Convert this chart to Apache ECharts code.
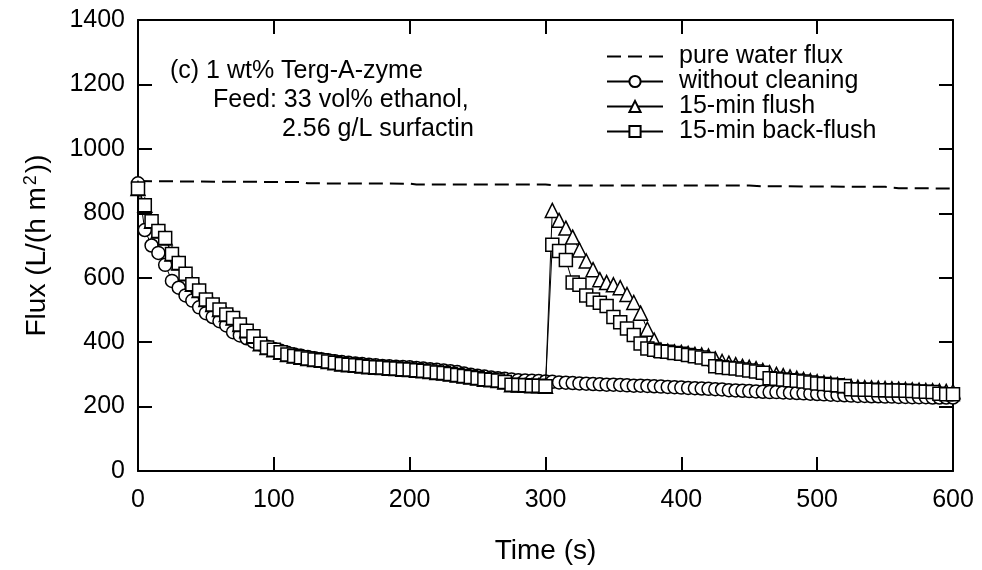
<!DOCTYPE html>
<html>
<head>
<meta charset="utf-8">
<script src="https://cdn.jsdelivr.net/npm/echarts@6/dist/echarts.min.js"></script>
<style>
  html, body { margin: 0; padding: 0; background: #fff; }
  #chart { width: 982px; height: 570px; }
</style>
</head>
<body>
<div id="chart"></div>
<script>
// ---- time (s) ----
var timeA = [0,5,10,15,20,25,30,35,40,45,50,55,60,65,70,75,80,85,90,95,
  100,105,110,115,120,125,130,135,140,145,150,155,160,165,170,175,180,185,190,195,
  200,205,210,215,220,225,230,235,240,245,250,255,260,265,270,275,280,285,290,295,300];
var timeB = [305,310,315,320,325,330,335,340,345,350,355,360,365,370,375,380,385,390,395,400,
  405,410,415,420,425,430,435,440,445,450,455,460,465,470,475,480,485,490,495,500,
  505,510,515,520,525,530,535,540,545,550,555,560,565,570,575,580,585,590,595,600];

// ---- pure water flux (dashed) ----
var waterTime = [0, 60, 120, 125, 200, 205, 300, 310, 450, 460, 550, 560, 600];
var waterFlux = [900, 898, 897, 893, 892, 889, 889, 886, 886, 884, 882, 878, 877];

// ---- without cleaning (circles) ----
var noCleanA = [893,748,700,677,640,590,569,545,529,508,490,478,465,452,431,421,412,402,393,386,
  379,373,367,362,358,354,350,347,344,341,338,336,334,332,330,328,326,325,324,323,
  322,320,318,316,314,312,310,307,303,299,296,293,290,288,286,284,282,281,280,279,278];
var noCleanB = [277,275,274,273,272,271,270,269,268,268,267,266,265,265,264,263,262,261,260,259,
  258,257,256,255,254,253,251,250,249,248,247,246,245,245,244,243,242,241,240,239,
  238,237,236,235,234,233,233,232,232,231,231,230,230,229,229,229,228,228,228,228];

// ---- 15-min flush (triangles) ----
var flushA = [877,825,775,745,723,674,646,612,580,560,532,517,501,486,475,455,435,418,395,383,
  376,369,362,357,353,349,346,344,340,336,332,330,328,326,324,322,321,319,318,316,
  315,313,311,309,306,304,301,298,295,292,289,285,283,281,276,268,267,266,265,265,263];
var flushB = [809,778,754,726,686,652,625,594,585,578,569,548,523,490,440,406,375,372,370,368,
  365,362,360,357,348,340,335,330,325,322,318,312,305,300,296,292,288,284,280,277,
  274,271,268,265,262,260,259,258,257,256,255,254,253,252,251,250,249,248,247,246];

// ---- 15-min back-flush (squares) ----
var backA = [877,825,775,745,723,674,646,612,580,560,532,517,501,486,475,455,435,418,395,383,
  376,369,362,357,353,349,346,344,340,336,332,330,328,326,324,322,321,319,318,316,
  315,313,311,309,306,304,301,298,295,292,289,285,283,281,276,268,267,266,265,265,263];
var backB = [702,683,655,585,578,545,532,522,512,478,462,442,422,396,380,376,372,370,366,364,
  360,356,352,348,325,322,320,318,315,312,309,305,288,286,284,282,280,278,275,272,
  270,268,266,264,254,253,252,252,251,251,250,250,249,248,247,246,245,240,238,238];

var seriesNames = ['pure water flux', 'without cleaning', '15-min flush', '15-min back-flush'];
var xTicks = [0, 100, 200, 300, 400, 500, 600];
var yTicks = [0, 200, 400, 600, 800, 1000, 1200, 1400];
var noteLines = ['(c) 1 wt% Terg-A-zyme', 'Feed: 33 vol% ethanol,', '2.56 g/L surfactin'];

function pairs(ts, vs) { return ts.map(function (t, i) { return [t, vs[i]]; }); }
var allTime = timeA.concat(timeB);

var FONT = 'Liberation Sans, Arial, sans-serif';
var axisCommon = {
  type: 'value',
  axisLine: { show: true, onZero: false, lineStyle: { color: '#000', width: 2 } },
  axisTick: { show: true, inside: true, length: 14, lineStyle: { color: '#000', width: 2 } },
  splitLine: { show: false },
  minorTick: { show: false }
};
function plain(v) { return String(v); }

var chart = echarts.init(document.getElementById('chart'), null, { renderer: 'canvas' });
var markerStyle = { color: '#fff', borderColor: '#000', borderWidth: 1.5 };
var noteFont = '25px Liberation Sans, Arial, sans-serif';
var option = {
  animation: false,
  backgroundColor: '#fff',
  textStyle: { fontFamily: FONT, color: '#000' },
  grid: { left: 138, right: 29, top: 20, bottom: 95 },
  xAxis: [
    Object.assign({}, axisCommon, {
      position: 'bottom', min: xTicks[0], max: xTicks[xTicks.length - 1], interval: 100,
      axisLabel: { show: true, color: '#000', fontSize: 25, fontFamily: FONT, margin: 17, formatter: plain },
      name: 'Time (s)', nameLocation: 'middle', nameGap: 66,
      nameTextStyle: { fontSize: 28, color: '#000', fontFamily: FONT }
    }),
    Object.assign({}, axisCommon, {
      position: 'top', min: xTicks[0], max: xTicks[xTicks.length - 1], interval: 100,
      axisLabel: { show: false }
    })
  ],
  yAxis: [
    Object.assign({}, axisCommon, {
      position: 'left', min: yTicks[0], max: yTicks[yTicks.length - 1], interval: 200,
      axisLabel: { show: true, color: '#000', fontSize: 25, fontFamily: FONT, margin: 13, formatter: plain },
      name: '{a|Flux (L/(h m}{s|2}{a|))}', nameLocation: 'middle', nameGap: 85, nameRotate: 90,
      nameTextStyle: {
        color: '#000', fontFamily: FONT,
        rich: {
          a: { fontSize: 28, fontFamily: FONT, color: '#000', lineHeight: 32 },
          s: { fontSize: 18, fontFamily: FONT, color: '#000', lineHeight: 32, padding: [0, 2, 12, 2] }
        }
      }
    }),
    Object.assign({}, axisCommon, {
      position: 'right', min: yTicks[0], max: yTicks[yTicks.length - 1], interval: 200,
      axisLabel: { show: false }
    })
  ],
  legend: {
    orient: 'vertical', left: 601, top: 39, itemGap: 0,
    itemWidth: 56, itemHeight: 14, align: 'left',
    data: [
      { name: seriesNames[0], itemStyle: { opacity: 0 } },
      seriesNames[1], seriesNames[2], seriesNames[3]
    ],
    textStyle: { fontSize: 25, fontFamily: FONT, color: '#000', lineHeight: 24.7, padding: [0, 0, 0, 11] }
  },
  graphic: [
    { type: 'text', left: 170, top: 59, style: { text: noteLines[0], font: noteFont, fill: '#000' } },
    { type: 'text', left: 213, top: 88, style: { text: noteLines[1], font: noteFont, fill: '#000' } },
    { type: 'text', left: 282, top: 117, style: { text: noteLines[2], font: noteFont, fill: '#000' } }
  ],
  series: [
    {
      name: seriesNames[0], type: 'line', symbol: 'none',
      data: pairs(waterTime, waterFlux),
      lineStyle: { color: '#000', width: 2, type: [14, 7] },
      itemStyle: { color: '#000' }, z: 2
    },
    {
      name: seriesNames[1], type: 'line', symbol: 'circle', symbolSize: 13,
      data: pairs(allTime, noCleanA.concat(noCleanB)),
      lineStyle: { color: '#000', width: 1 }, itemStyle: markerStyle, z: 3
    },
    {
      name: seriesNames[2], type: 'line', symbol: 'triangle', symbolSize: 14,
      data: pairs(allTime, flushA.concat(flushB)),
      lineStyle: { color: '#000', width: 1 }, itemStyle: markerStyle, z: 4
    },
    {
      name: seriesNames[3], type: 'line', symbol: 'rect', symbolSize: 13,
      data: pairs(allTime, backA.concat(backB)),
      lineStyle: { color: '#000', width: 1 }, itemStyle: markerStyle, z: 5
    }
  ]
};
chart.setOption(option);
</script>
</body>
</html>
